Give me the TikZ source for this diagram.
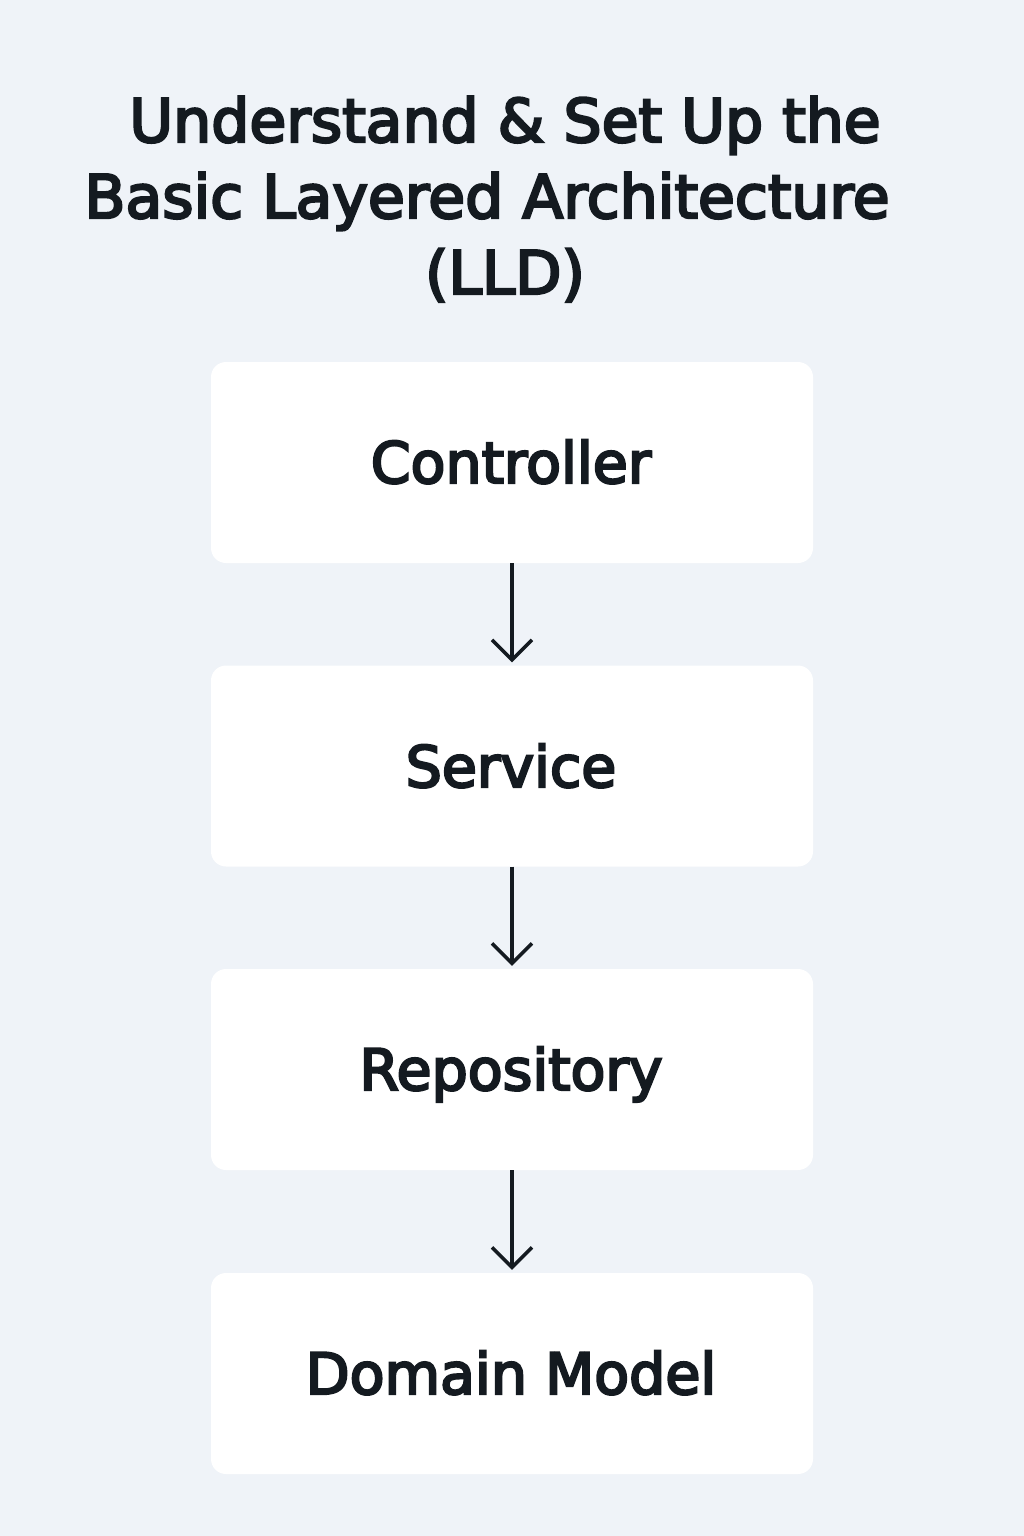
\documentclass[tikz,border=0pt]{standalone}
\usepackage{fontspec}
\setmainfont{DejaVu Sans}
\newfontfamily\medfont{DejaVu Sans}[RawFeature={embolden=4}]
\usetikzlibrary{arrows.meta}
\definecolor{bgc}{HTML}{EFF3F8}
\definecolor{ink}{HTML}{141A20}
\tikzset{
  layer/.style={fill=white, rounded corners=15pt, minimum width=602pt, minimum height=201pt, inner sep=0pt},
  lbl/.style={anchor=base, text=ink, font=\medfont\fontsize{57}{60}\selectfont, inner sep=0pt},
  ttl/.style={anchor=base, text=ink, font=\medfont\fontsize{60}{66}\selectfont, inner sep=0pt},
  flow/.style={draw=ink, line width=3.5pt, -{Straight Barb[length=20pt,width=40pt,line width=3.5pt]}, shorten >=3pt}
}
\begin{document}
\begin{tikzpicture}[x=1pt,y=-1pt]
\fill[bgc] (0,0) rectangle (1024,1536);
\useasboundingbox (0,0) rectangle (1024,1536);
\node[ttl] (t1) at (505,142) {Understand \& Set Up the};
\node[ttl] (t2) at (487,218) {Basic Layered Architecture};
\node[ttl] (t3) at (505,294) {(LLD)};
\node[layer] (b1) at (512,462.5) {};
\node[layer] (b2) at (512,766) {};
\node[layer] (b3) at (512,1069.5) {};
\node[layer] (b4) at (512,1373.5) {};
\node[lbl] (l1) at (511,483) {Controller};
\node[lbl] (l2) at (511,787) {Service};
\node[lbl] (l3) at (511,1090) {Repository};
\node[lbl] (l4) at (511,1394) {Domain Model};
\draw[flow] (b1.south) -- (b2.north);
\draw[flow] (b2.south) -- (b3.north);
\draw[flow] (b3.south) -- (b4.north);
\end{tikzpicture}
\end{document}
